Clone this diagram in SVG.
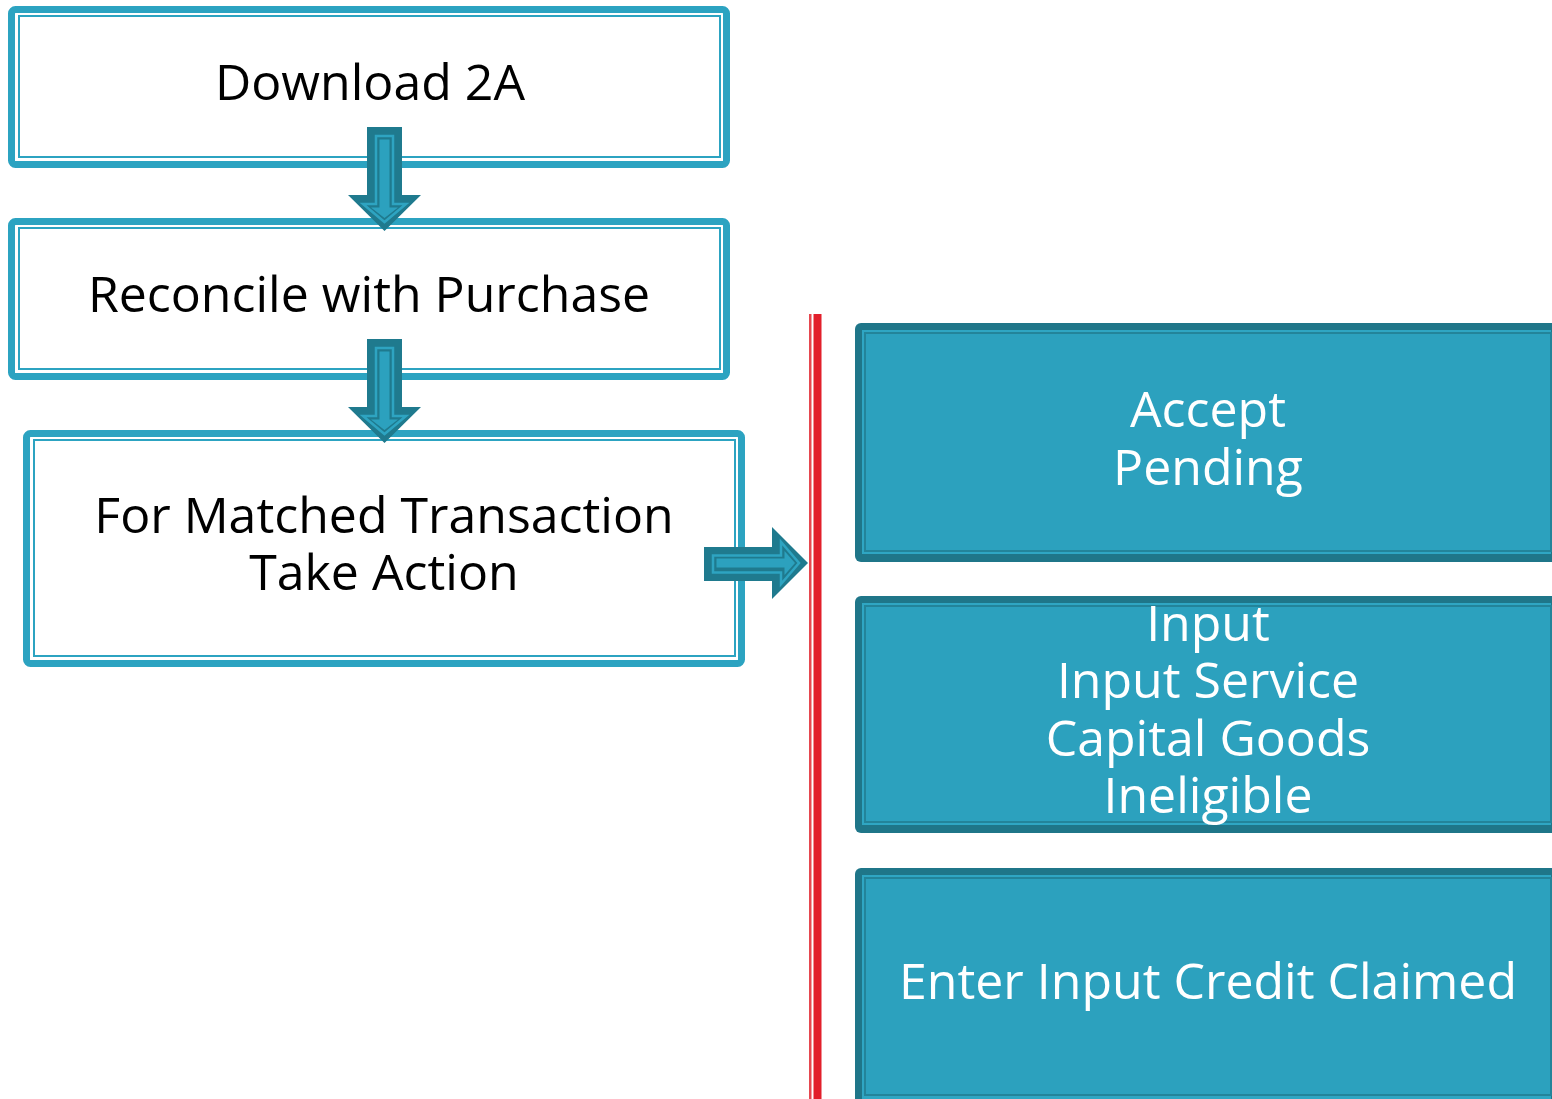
<svg xmlns="http://www.w3.org/2000/svg" width="1552" height="1099" viewBox="0 0 1552 1099">
  <style>
    .frame-outer { fill: #ffffff; stroke: #2ca3c1; stroke-width: 7; }
    .frame-inner { fill: none; stroke: #2ca3c1; stroke-width: 2; }
    .dark-txt { font-family: "Open Sans", "DejaVu Sans", sans-serif; font-size: 50px; fill: #000000; text-anchor: middle; }
    .light-txt { font-family: "Open Sans", "DejaVu Sans", sans-serif; font-size: 50px; fill: #ffffff; text-anchor: middle; }
    .tile-edge { fill: #1f7689; }
    .tile-band { fill: #2fa6c3; }
    .tile-face { fill: #2ca1be; stroke: #23849a; stroke-width: 2; }
    .arrow-body { fill: #1f7a8e; }
    .arrow-ring { fill: none; stroke: #2ea4c1; stroke-width: 2.5; }
    .arrow-core { fill: #2ca1be; }
  </style>

  <!-- left flow steps -->
  <g id="step-download">
    <rect class="frame-outer" x="11.5" y="9.5" width="715" height="155" rx="4"/>
    <rect class="frame-inner" x="19" y="16" width="701" height="141"/>
    <text class="dark-txt" x="370" y="100">Download 2A</text>
  </g>

  <g id="step-reconcile">
    <rect class="frame-outer" x="11.5" y="221.5" width="715" height="155" rx="4"/>
    <rect class="frame-inner" x="19" y="228" width="701" height="141"/>
    <text class="dark-txt" x="369" y="312">Reconcile with Purchase</text>
  </g>

  <g id="step-action">
    <rect class="frame-outer" x="26.5" y="433.5" width="715" height="230" rx="4"/>
    <rect class="frame-inner" x="34" y="440" width="701" height="216"/>
    <text class="dark-txt" x="384" y="533">For Matched Transaction</text>
    <text class="dark-txt" x="384" y="590">Take Action</text>
  </g>

  <!-- divider -->
  <g id="divider">
    <rect x="809" y="314" width="2.5" height="785" fill="#e6474f"/>
    <rect x="813.5" y="314" width="8" height="785" fill="#e21f2b"/>
  </g>

  <!-- right option tiles -->
  <g id="tile-accept">
    <rect class="tile-edge" x="855" y="323" width="705" height="239" rx="6"/>
    <rect class="tile-band" x="862" y="330" width="689" height="224"/>
    <rect class="tile-face" x="865" y="333" width="686" height="218"/>
    <text class="light-txt" x="1208" y="427">Accept</text>
    <text class="light-txt" x="1208" y="485">Pending</text>
  </g>

  <g id="tile-category">
    <rect class="tile-edge" x="855" y="596" width="705" height="237" rx="6"/>
    <rect class="tile-band" x="862" y="603" width="689" height="222"/>
    <rect class="tile-face" x="865" y="606" width="686" height="216"/>
    <text class="light-txt" x="1208" y="641">Input</text>
    <text class="light-txt" x="1208" y="698">Input Service</text>
    <text class="light-txt" x="1208" y="756">Capital Goods</text>
    <text class="light-txt" x="1208" y="813">Ineligible</text>
  </g>

  <g id="tile-credit">
    <rect class="tile-edge" x="855" y="868" width="705" height="240" rx="6"/>
    <rect class="tile-band" x="862" y="875" width="689" height="225"/>
    <rect class="tile-face" x="865" y="878" width="686" height="217"/>
    <text class="light-txt" x="1208" y="999">Enter Input Credit Claimed</text>
  </g>

  <!-- block arrows between steps -->
  <g id="connectors">
    <g id="arrow-1">
      <path class="arrow-body" d="M367,127 H402 V195 H421 L384.5,231 L348,195 H367 Z"/>
      <path class="arrow-ring" d="M376,136 H393 V204 H406 L384.5,222 L363,204 H376 Z"/>
      <path class="arrow-core" d="M379.5,139.5 H389.5 V207.5 H398 L384.5,218 L371,207.5 H379.5 Z"/>
    </g>
    <g id="arrow-2">
      <path class="arrow-body" d="M367,339 H402 V407 H421 L384.5,443 L348,407 H367 Z"/>
      <path class="arrow-ring" d="M376,348 H393 V416 H406 L384.5,434 L363,416 H376 Z"/>
      <path class="arrow-core" d="M379.5,351.5 H389.5 V419.5 H398 L384.5,430 L371,419.5 H379.5 Z"/>
    </g>
    <g id="arrow-3">
      <path class="arrow-body" d="M704,547 V581 H772 V599 L808,563 L772,527 V547 Z"/>
      <path class="arrow-ring" d="M713,555.5 V572.5 H781 V584 L799,563 L781,542 V555.5 Z"/>
      <path class="arrow-core" d="M716.5,558.5 V567.5 H784.5 V575 L795,563 L784.5,551 V558.5 Z"/>
    </g>
  </g>
</svg>
